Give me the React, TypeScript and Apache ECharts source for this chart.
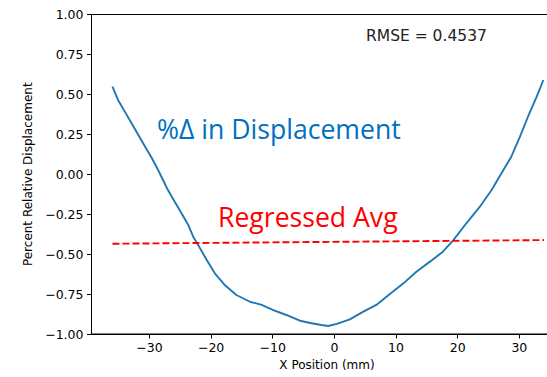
import React, { useEffect, useRef } from "react";
import * as echarts from "echarts";

const xPos = [-36.0, -35.1, -34.0, -32.9, -31.8, -30.7, -29.6, -28.6, -27.8, -27.0, -25.9, -24.8, -23.7, -22.9, -22.1, -20.7, -19.4, -17.8, -15.9, -13.7, -11.8, -9.9, -7.8, -5.6, -3.7, -2.1, -1.0, 0.4, 2.5, 4.7, 6.8, 9.0, 11.2, 13.3, 15.5, 17.6, 19.3, 21.4, 23.6, 25.5, 27.1, 28.7, 30.1, 31.4, 32.8, 33.9];
const pctDelta = [0.548, 0.465, 0.392, 0.319, 0.246, 0.172, 0.1, 0.027, -0.036, -0.099, -0.172, -0.244, -0.318, -0.391, -0.443, -0.537, -0.62, -0.693, -0.756, -0.798, -0.818, -0.85, -0.881, -0.917, -0.933, -0.944, -0.95, -0.937, -0.908, -0.86, -0.818, -0.75, -0.683, -0.61, -0.547, -0.485, -0.412, -0.307, -0.203, -0.099, 0.006, 0.11, 0.235, 0.36, 0.485, 0.59];
const regX = [-36.0, 34.0];
const regY = [-0.435, -0.412];
const xTicks = [-30, -20, -10, 0, 10, 20, 30];
const rmseText = "RMSE = 0.4537";
const curveLabel = "%Δ in Displacement";
const regLabel = "Regressed Avg";

const minus = (s: string) => s.replace("-", "\u2212");

export default function App() {
  const ref = useRef<HTMLDivElement>(null);
  useEffect(() => {
    document.body.style.margin = "0";
    const chart = echarts.init(ref.current!, null, { renderer: "svg" });
    const axisFont = { fontFamily: "DejaVu Sans", fontSize: 12.5, color: "#000" };
    chart.setOption({
      animation: false,
      grid: {
        left: 91.5,
        top: 14.5,
        bottom: 43,
        right: -15.5,
        show: true,
        borderColor: "#000",
        borderWidth: 1,
        outerBoundsMode: "none",
        containLabel: false,
      },
      xAxis: {
        type: "value",
        min: -39.4,
        max: 37,
        name: "X Position (mm)",
        nameLocation: "middle",
        nameGap: 24,
        nameTextStyle: { fontFamily: "DejaVu Sans", fontSize: 12, color: "#000" },
        axisLine: { show: true, onZero: false, lineStyle: { color: "#000", width: 1 } },
        axisTick: { show: true, length: 4.5, customValues: xTicks, lineStyle: { color: "#000" } },
        axisLabel: {
          ...axisFont,
          margin: 7,
          customValues: xTicks,
          formatter: (v: number) => minus(String(v)),
        },
        splitLine: { show: false },
      },
      yAxis: {
        type: "value",
        min: -1,
        max: 1,
        interval: 0.25,
        name: "Percent Relative Displacement",
        nameLocation: "middle",
        nameGap: 58,
        nameTextStyle: { fontFamily: "DejaVu Sans", fontSize: 12, color: "#000" },
        axisLine: { show: true, onZero: false, lineStyle: { color: "#000", width: 1 } },
        axisTick: { show: true, length: 4.5, lineStyle: { color: "#000" } },
        axisLabel: {
          ...axisFont,
          margin: 8,
          formatter: (v: number) => minus(v.toFixed(2)),
        },
        splitLine: { show: false },
      },
      series: [
        {
          type: "line",
          data: xPos.map((x, i) => [x, pctDelta[i]]),
          showSymbol: false,
          lineStyle: { color: "#1f77b4", width: 1.9 },
        },
        {
          type: "line",
          data: regX.map((x, i) => [x, regY[i]]),
          showSymbol: false,
          lineStyle: { color: "#ff0000", width: 1.9, type: [7, 3] },
        },
      ],
      graphic: [
        {
          type: "text",
          x: 366,
          y: 35.6,
          style: {
            text: rmseText,
            font: "15.5px 'DejaVu Sans'",
            fill: "#222",
            verticalAlign: "middle",
          },
        },
        {
          type: "text",
          x: 157,
          y: 129.2,
          style: {
            text: curveLabel,
            font: "26.6px 'Open Sans'",
            fill: "#0070c0",
            verticalAlign: "middle",
          },
        },
        {
          type: "text",
          x: 218,
          y: 216.6,
          style: {
            text: regLabel,
            font: "26.6px 'Open Sans'",
            fill: "#ff0000",
            verticalAlign: "middle",
          },
        },
      ],
    });
    return () => chart.dispose();
  }, []);
  return <div ref={ref} style={{ width: 547, height: 377 }} />;
}
